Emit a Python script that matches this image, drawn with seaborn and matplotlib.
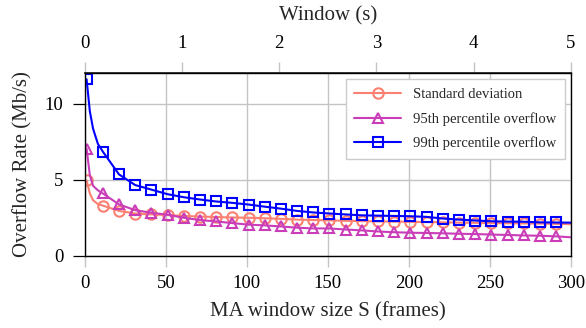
import numpy as np
import pandas as pd
import matplotlib
matplotlib.use("Agg")
import matplotlib.pyplot as plt
import seaborn as sns

# ---- data ----
frames = [1, 3, 5, 8, 11, 21, 31, 41, 51, 61, 71, 81, 91, 101, 111, 121, 131, 141, 151,
          161, 171, 181, 191, 201, 211, 221, 231, 241, 251, 261, 271, 281, 291, 300]
std_dev = [4.95, 4.1, 3.65, 3.4, 3.3, 2.95, 2.78, 2.72, 2.68, 2.62, 2.58, 2.55, 2.52, 2.5,
           2.47, 2.43, 2.38, 2.35, 2.33, 2.3, 2.28, 2.26, 2.25, 2.23, 2.22, 2.2, 2.18,
           2.17, 2.15, 2.14, 2.13, 2.12, 2.1, 2.08]
p95 = [7.05, 5.3, 4.6, 4.3, 4.1, 3.38, 3.0, 2.83, 2.7, 2.5, 2.35, 2.26, 2.15, 2.05, 2.0,
       1.93, 1.85, 1.8, 1.8, 1.73, 1.67, 1.6, 1.55, 1.52, 1.5, 1.48, 1.45, 1.43, 1.4,
       1.37, 1.34, 1.32, 1.28, 1.22]
p99 = [11.6, 9.5, 8.35, 7.35, 6.85, 5.35, 4.65, 4.35, 4.05, 3.85, 3.7, 3.57, 3.48, 3.37,
       3.23, 3.1, 2.95, 2.85, 2.78, 2.72, 2.66, 2.64, 2.62, 2.6, 2.56, 2.45, 2.38, 2.32,
       2.27, 2.25, 2.24, 2.2, 2.19, 2.18]
series_names = ["Standard deviation", "95th percentile overflow", "99th percentile overflow"]
x_ticks = [0, 50, 100, 150, 200, 250, 300]
y_ticks = [0, 5, 10]
top_ticks = [0, 1, 2, 3, 4, 5]
fps = 60

sns.set_theme(style="ticks")
plt.rcParams["font.family"] = ["Liberation Serif", "DejaVu Serif"]

fig = plt.figure(figsize=(5.86, 3.28), dpi=100)
ax = fig.add_axes([0.145, 0.22, 0.829, 0.557])

# markers only at the 10-frame sample points
mark_idx = [i for i, f in enumerate(frames) if (f - 1) % 10 == 0 and f <= 291]

styles = [
    (std_dev, "#FA8072", "o", 7.5),
    (p95, "#C93DB8", "^", 7.5),
    (p99, "#0000FF", "s", 7.8),
]
for (vals, col, mk, ms), name in zip(styles, series_names):
    sns.lineplot(x=frames, y=vals, ax=ax, color=col, marker=mk, markersize=ms,
                 markerfacecolor="none", markeredgecolor=col, markeredgewidth=1.5,
                 markevery=mark_idx, linewidth=1.5, label=name, sort=False,
                 estimator=None)

grid_col = "#c4c4c4"
ax.set_xlim(0, 300)
ax.set_ylim(0, 12)
ax.set_xticks(x_ticks)
ax.set_yticks(y_ticks)
ax.grid(True, color=grid_col, linewidth=1.0)
for s in ax.spines.values():
    s.set_visible(True)
    s.set_color("black")
    s.set_linewidth(1.0)
ax.tick_params(axis="y", direction="out", length=8.5, width=0.9, pad=7,
               labelsize=13.5, colors="black")
ax.tick_params(axis="x", direction="out", length=8, width=1.0, pad=6,
               labelsize=13.5, color=grid_col, labelcolor="black")
ax.set_xlabel("MA window size S (frames)", fontsize=15, labelpad=7)
ax.set_ylabel("Overflow Rate (Mb/s)", fontsize=15, labelpad=9)

top = ax.secondary_xaxis("top", functions=(lambda f: f / fps, lambda s: s * fps))
top.set_xticks(top_ticks)
top.tick_params(direction="out", length=8, width=1.0, pad=7, labelsize=13.5,
                color=grid_col, labelcolor="black")
top.set_xlabel("Window (s)", fontsize=15, labelpad=11)

leg = ax.legend(loc="upper right", fontsize=10.5, frameon=True, fancybox=False,
                edgecolor="#cccccc", framealpha=1.0, borderpad=0.6,
                handlelength=3.2, labelspacing=0.75, borderaxespad=0.4)
leg.get_frame().set_linewidth(1.0)

fig.savefig("out.png", dpi=100)
